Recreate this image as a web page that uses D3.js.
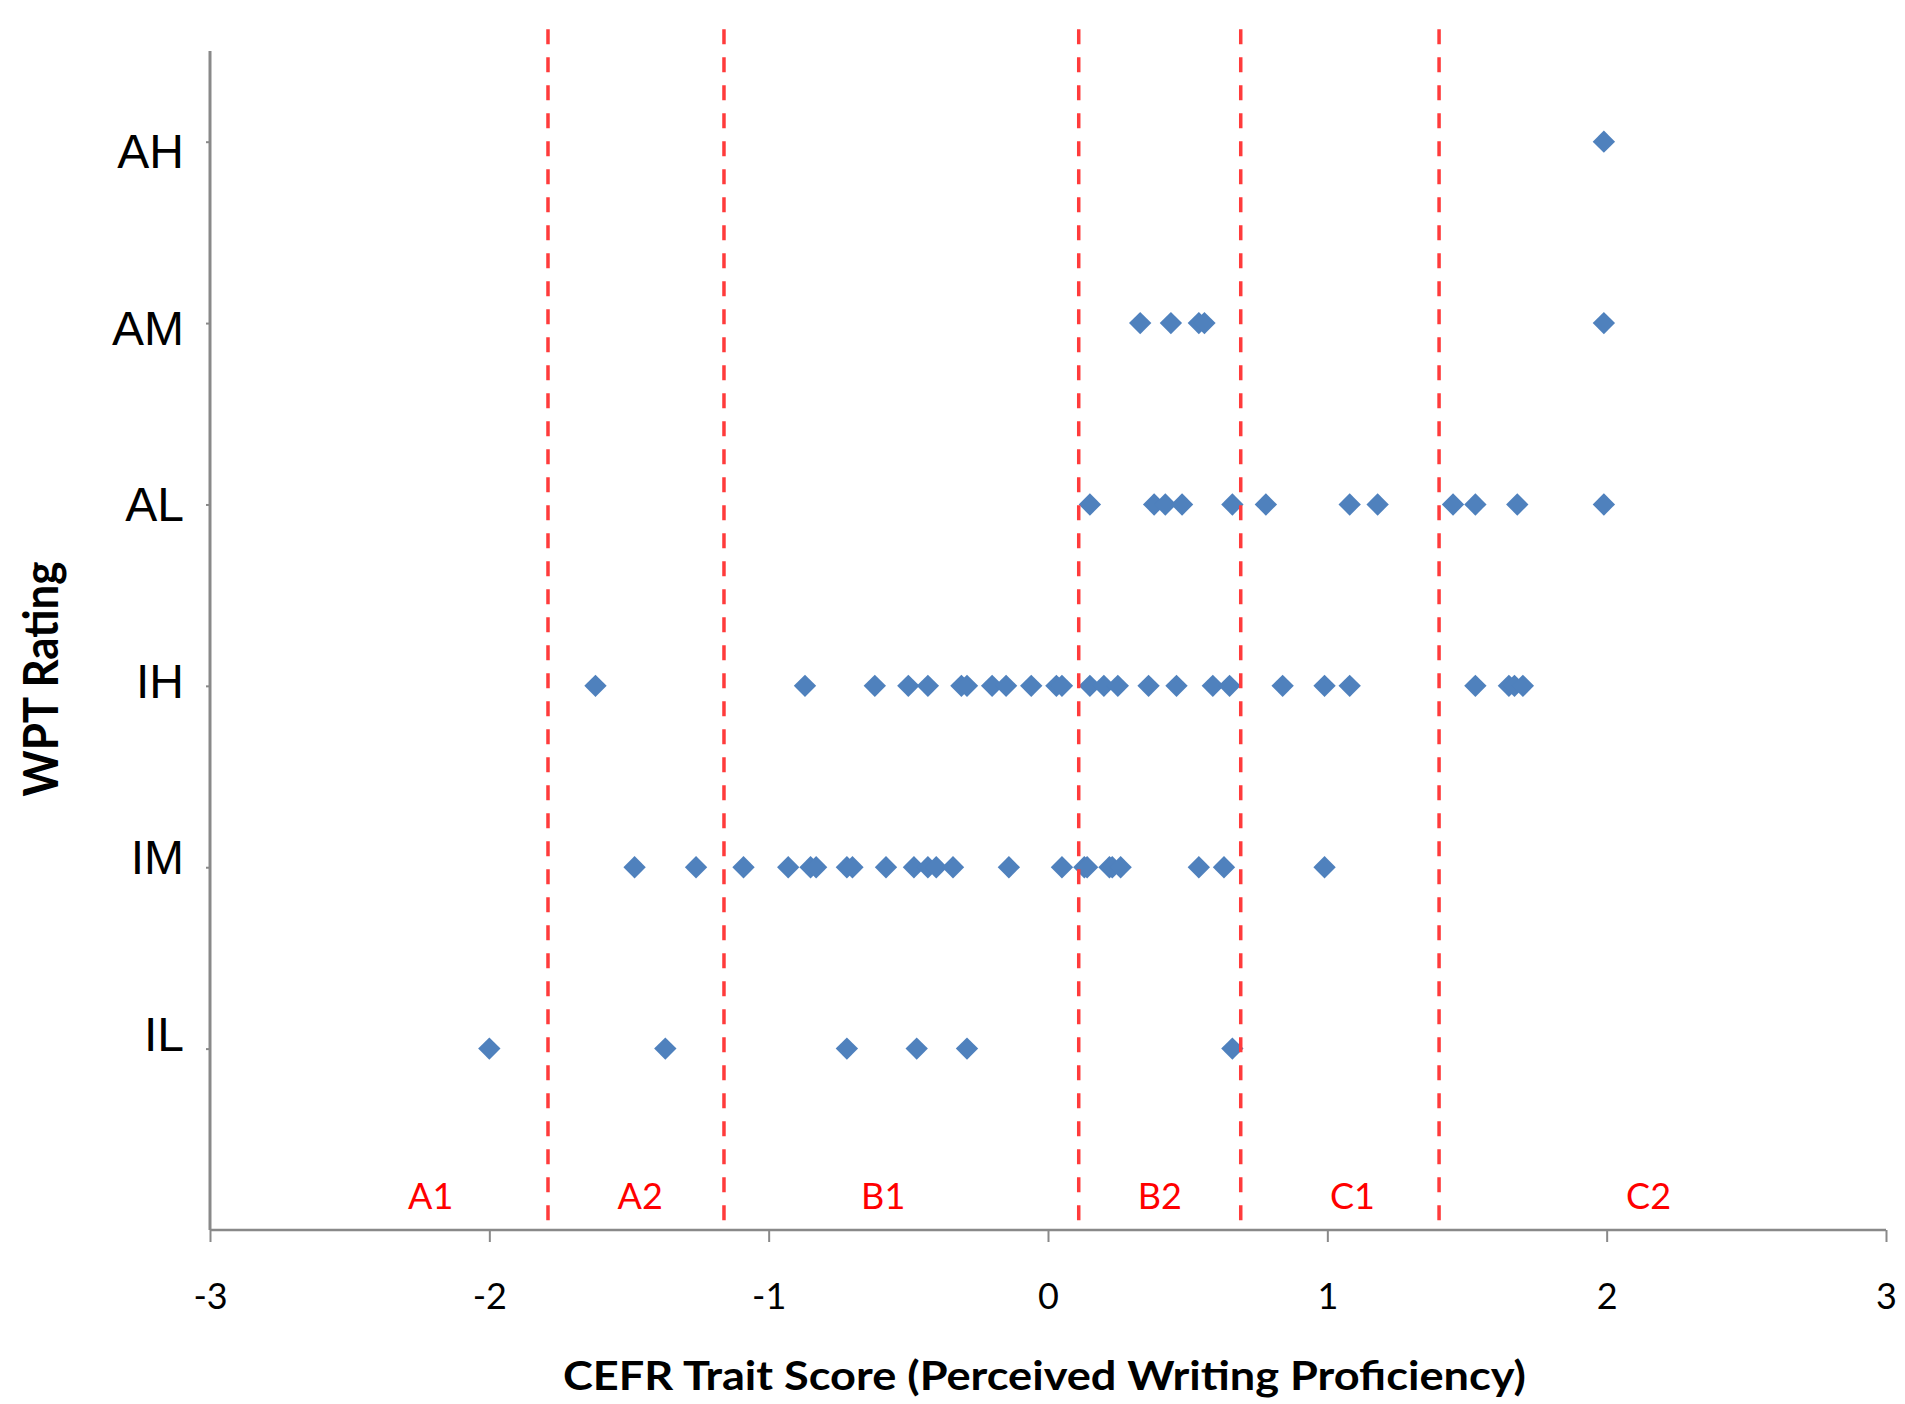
<!DOCTYPE html>
<html>
<head>
<meta charset="utf-8">
<script src="https://cdn.jsdelivr.net/npm/d3@7"></script>
<style>
  html, body { margin: 0; padding: 0; background: #ffffff; }
  svg { display: block; }
</style>
</head>
<body>
<svg id="chart" width="1905" height="1404"></svg>
<script>
// ---- data ----
const categories = ["IL", "IM", "IH", "AL", "AM", "AH"];   // y positions 1..6
const categoryValues = [1, 2, 3, 4, 5, 6];

const scoresAH = [1.99];
const scoresAM = [0.33, 0.44, 0.54, 0.56, 1.99];
const scoresAL = [0.15, 0.38, 0.42, 0.48, 0.66, 0.78, 1.08, 1.18, 1.45, 1.53, 1.68, 1.99];
const scoresIH = [-1.62, -0.87, -0.62, -0.50, -0.43, -0.31, -0.29, -0.20, -0.15, -0.06,
                  0.03, 0.05, 0.15, 0.20, 0.25, 0.36, 0.46, 0.59, 0.65, 0.84,
                  0.99, 1.08, 1.53, 1.65, 1.67, 1.70];
const scoresIM = [-1.48, -1.26, -1.09, -0.93, -0.85, -0.83, -0.72, -0.70, -0.58, -0.48,
                  -0.43, -0.40, -0.34, -0.14, 0.05, 0.13, 0.14, 0.22, 0.23, 0.26,
                  0.54, 0.63, 0.99];
const scoresIL = [-2.00, -1.37, -0.72, -0.47, -0.29, 0.66];

const cefrBoundaries = [-1.79, -1.16, 0.11, 0.69, 1.40];
const cefrLabels = ["A1", "A2", "B1", "B2", "C1", "C2"];
const cefrLabelX = [-2.21, -1.46, -0.59, 0.40, 1.09, 2.15];

const xTicks = [-3, -2, -1, 0, 1, 2, 3];
const xTitle = "CEFR Trait Score (Perceived Writing Proficiency)";
const yTitle = "WPT Rating";

// ---- build point table ----
const seriesByCat = { IL: scoresIL, IM: scoresIM, IH: scoresIH, AL: scoresAL, AM: scoresAM, AH: scoresAH };
const points = [];
categories.forEach((c, i) => {
  seriesByCat[c].forEach(v => points.push({ cat: c, y: categoryValues[i], x: v }));
});

// ---- layout ----
const svg = d3.select("#chart");
const plotLeft = 210, plotRight = 1886, plotTop = 51, plotBottom = 1230;

const x = d3.scaleLinear().domain([-3, 3]).range([plotLeft, plotRight]);
const y = d3.scaleLinear().domain([0, 6.5]).range([plotBottom, plotTop]);
// category text labels were placed slightly off the tick marks in the original
const yLabel = d3.scaleLinear().domain([6, 1]).range([168, 1051]);

const axisColor = "#898989";
const calibriLike = "Lato, 'Open Sans', 'Noto Sans', sans-serif";

// ---- points ----
const diamond = d3.symbol().type(d3.symbolSquare).size(250);
svg.append("g")
  .selectAll("path")
  .data(points)
  .join("path")
  .attr("d", diamond)
  .attr("transform", d => `translate(${x(d.x)},${y(d.y)}) rotate(45)`)
  .attr("fill", "#4F81BD");

// ---- axes ----
const xAxis = d3.axisBottom(x)
  .tickValues(xTicks)
  .tickSize(12)
  .tickFormat(d => (d < 0 ? "-" : "") + Math.abs(d));

const gx = svg.append("g")
  .attr("transform", `translate(0,${plotBottom})`)
  .call(xAxis);
gx.select(".domain").attr("stroke", axisColor).attr("stroke-width", 2.5)
  .attr("d", `M${plotLeft},0H${plotRight}`);
gx.selectAll(".tick line").attr("stroke", axisColor).attr("stroke-width", 2);
gx.selectAll(".tick text")
  .attr("y", 79)
  .attr("dy", 0)
  .attr("fill", "#000")
  .style("font-family", calibriLike)
  .style("font-size", "36px");

const yAxis = d3.axisLeft(y)
  .tickValues(categoryValues)
  .tickSize(4)
  .tickFormat("");
const gy = svg.append("g")
  .attr("transform", `translate(${plotLeft},0)`)
  .call(yAxis);
gy.select(".domain").attr("stroke", axisColor).attr("stroke-width", 3)
  .attr("d", `M0,${plotTop}V${plotBottom}`);
gy.selectAll(".tick line").attr("stroke", axisColor).attr("stroke-width", 2);

// category labels
svg.append("g")
  .selectAll("text")
  .data(categories.map((c, i) => ({ c, v: categoryValues[i] })))
  .join("text")
  .attr("x", plotLeft - 26)
  .attr("y", d => yLabel(d.v))
  .attr("text-anchor", "end")
  .attr("fill", "#000")
  .style("font-family", "'Liberation Sans', Arial, sans-serif")
  .style("font-size", "48px")
  .text(d => d.c);

// ---- CEFR boundaries (drawn over points) ----
svg.append("g")
  .selectAll("line")
  .data(cefrBoundaries)
  .join("line")
  .attr("x1", d => x(d)).attr("x2", d => x(d))
  .attr("y1", y(6.62)).attr("y2", y(0.03))
  .attr("stroke", "#FF3B3B")
  .attr("stroke-width", 3.5)
  .attr("stroke-dasharray", "15,13");

svg.append("g")
  .selectAll("text")
  .data(cefrLabels.map((l, i) => ({ l, v: cefrLabelX[i] })))
  .join("text")
  .attr("x", d => x(d.v))
  .attr("y", y(0) - 21)
  .attr("text-anchor", "middle")
  .attr("fill", "#FF0000")
  .style("font-family", calibriLike)
  .style("font-size", "36px")
  .text(d => d.l);

// ---- titles ----
svg.append("text")
  .attr("x", 563)
  .attr("y", 1390)
  .attr("textLength", 963)
  .attr("lengthAdjust", "spacingAndGlyphs")
  .attr("fill", "#000")
  .style("font-family", calibriLike)
  .style("font-weight", "bold")
  .style("font-size", "41px")
  .text(xTitle);

svg.append("text")
  .attr("transform", `translate(58,${679 + 117.5}) rotate(-90)`)
  .attr("x", 0)
  .attr("y", 0)
  .attr("textLength", 235)
  .attr("lengthAdjust", "spacingAndGlyphs")
  .attr("fill", "#000")
  .style("font-family", calibriLike)
  .style("font-weight", "bold")
  .style("font-size", "48px")
  .text(yTitle);
</script>
</body>
</html>
